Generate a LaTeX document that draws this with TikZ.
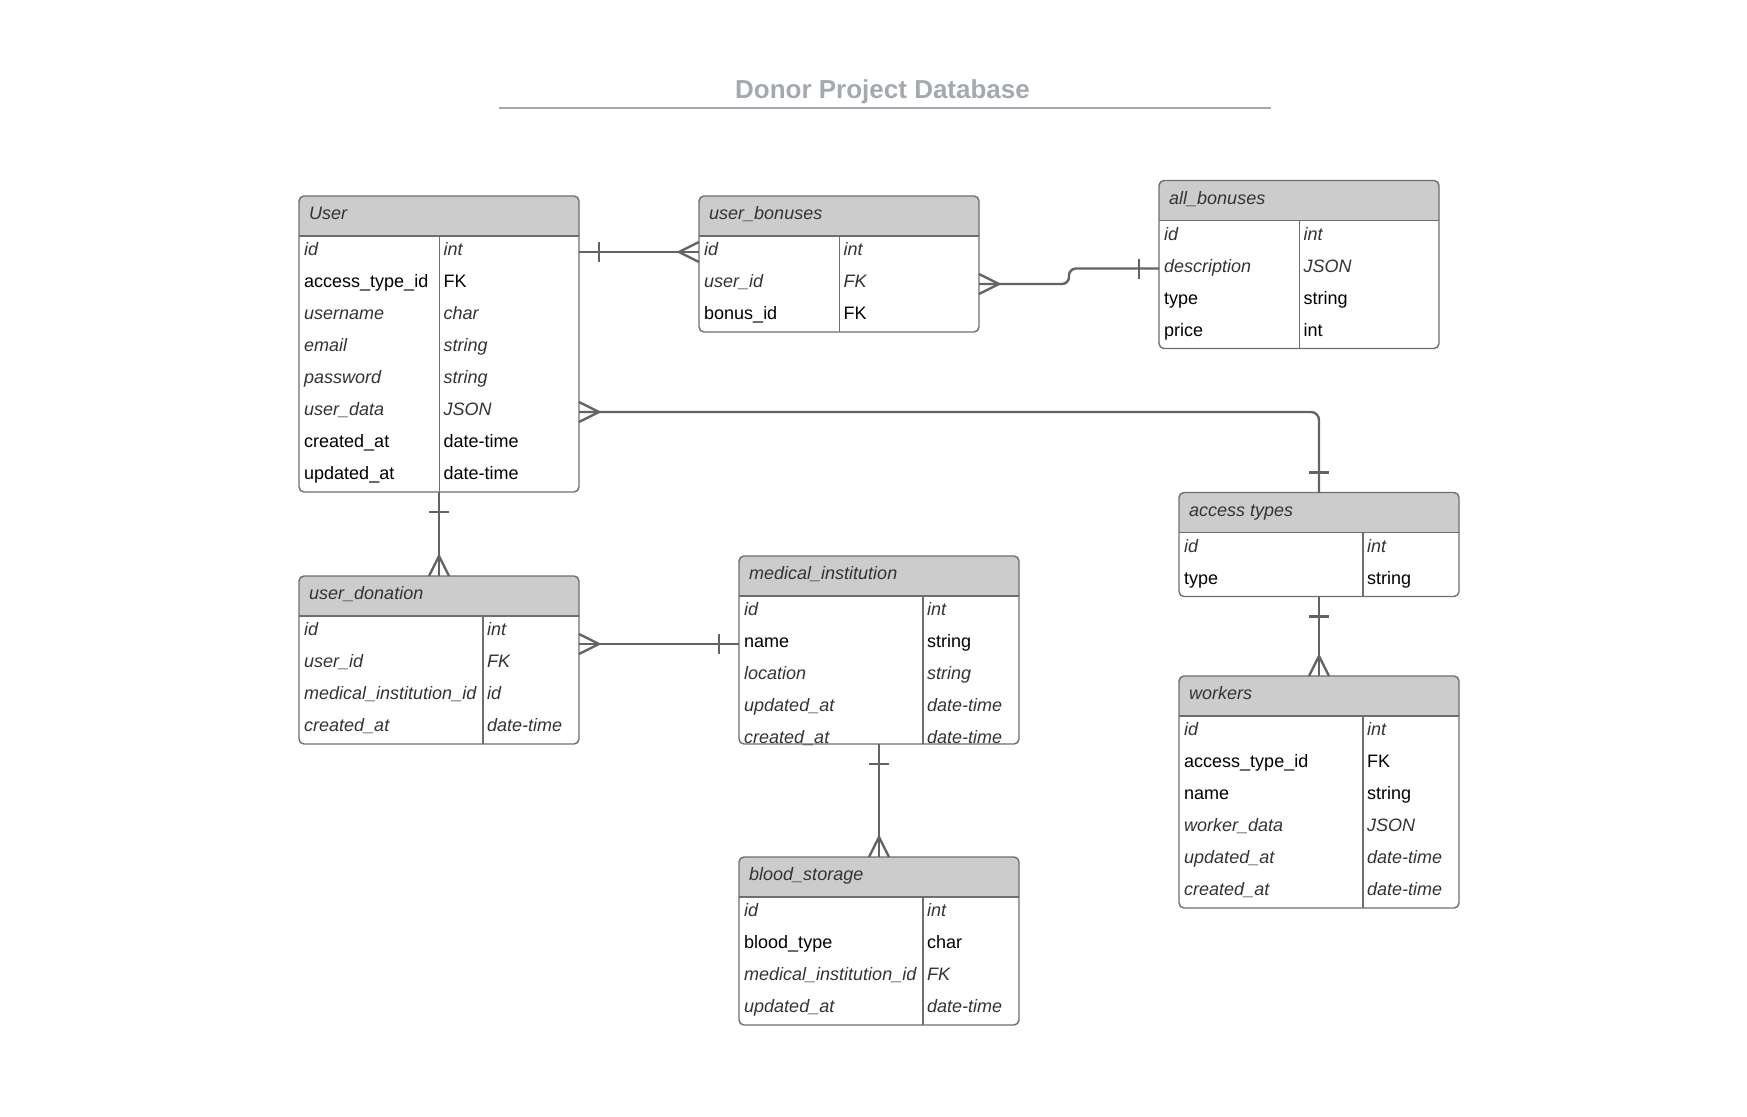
\documentclass[tikz,border=0pt]{standalone}
\usepackage{fontspec}
\setmainfont{Liberation Sans}
\usetikzlibrary{calc}

\definecolor{framegray}{HTML}{6E6E6E}
\definecolor{linkgray}{HTML}{636363}
\definecolor{headgray}{HTML}{CCCCCC}
\definecolor{softtext}{HTML}{333333}
\definecolor{titlegray}{HTML}{A4A8B0}

\tikzset{
  tablebox/.style={rectangle, fill=white, inner sep=0pt, outer sep=0pt},
  frame/.style={draw=framegray, line width=1.4pt},
  conn/.style={draw=linkgray, line width=2.4pt},
  cell/.style={inner sep=0pt, anchor=west, text height=12pt, text depth=5pt,
               font=\fontsize{18}{22}\selectfont},
  fi/.style={cell, font=\fontsize{18}{22}\selectfont\itshape, text=softtext},
  fn/.style={cell, text=black},
  headtxt/.style={cell, font=\fontsize{18}{22}\selectfont\itshape, text=softtext},
  crowfoot/.pic={\draw[conn] (-20,0) -- (0,10) (-20,0) -- (0,-10);},
  onebar/.pic={\draw[conn] (-20,-10) -- (-20,10);},
}

% #1 name, #2 left, #3 top, #4 width, #5 column split, #6 height, #7 title, #8 rows
\newcommand\ertable[8]{%
  \node[tablebox, minimum width=#4pt, minimum height=#6pt, anchor=north west] (#1) at (#2,#3) {};
  \begin{scope}
    \clip (#1.north west) rectangle ([yshift=-40pt]#1.north east);
    \fill[headgray, rounded corners=5pt] (#1.north west) rectangle (#1.south east);
  \end{scope}
  \draw[frame] ([yshift=-40pt]#1.north west) -- ([yshift=-40pt]#1.north east);
  \draw[frame] ([xshift=#5pt, yshift=-40pt]#1.north west) -- ([xshift=#5pt]#1.south west);
  \draw[frame, rounded corners=5pt] (#1.north west) rectangle (#1.south east);
  \node[headtxt] (#1-head) at ([xshift=10pt, yshift=-20pt]#1.north west) {#7};
  \foreach [count=\i] \kind/\fname/\ftype in {#8} {
    \node[f\kind] (#1-f\i) at ([xshift=5pt, yshift={-(24+32*\i)*1pt}]#1.north west) {\fname};
    \node[f\kind] (#1-t\i) at ([xshift={(#5+4)*1pt}, yshift={-(24+32*\i)*1pt}]#1.north west) {\ftype};
  }%
}

\begin{document}
\begin{tikzpicture}[x=1pt, y=-1pt]
\useasboundingbox (0,0) rectangle (1747,1116);

% heading
\node[font=\fontsize{26}{30}\selectfont\bfseries, text=titlegray] (title) at (882.5,91.5) {Donor Project Database};
\draw[titlegray, line width=2pt] (499,108) -- (1271,108);

% tables
\ertable{user}{299}{196}{280}{140.5}{296}{User}{i/id/int, n/access\_type\_id/FK, i/username/char, i/email/string, i/password/string, i/user\_data/JSON, n/created\_at/date-time, n/updated\_at/date-time}
\ertable{ub}{699}{196}{280}{140.5}{136}{user\_bonuses}{i/id/int, i/user\_id/FK, n/bonus\_id/FK}
\ertable{ab}{1159}{180.5}{280}{140.5}{168}{all\_bonuses}{i/id/int, i/description/JSON, n/type/string, n/price/int}
\ertable{acc}{1179}{492.5}{280}{184}{104}{access types}{i/id/int, n/type/string}
\ertable{wk}{1179}{676}{280}{184}{232}{workers}{i/id/int, n/access\_type\_id/FK, n/name/string, i/worker\_data/JSON, i/updated\_at/date-time, i/created\_at/date-time}
\ertable{ud}{299}{576}{280}{184}{168}{user\_donation}{i/id/int, i/user\_id/FK, i/medical\_institution\_id/id, i/created\_at/date-time}
\ertable{mi}{739}{556}{280}{184}{188}{medical\_institution}{i/id/int, n/name/string, i/location/string, i/updated\_at/date-time, i/created\_at/date-time}
\ertable{bs}{739}{857}{280}{184}{168}{blood\_storage}{i/id/int, n/blood\_type/char, i/medical\_institution\_id/FK, i/updated\_at/date-time}

% User (one) -- user_bonuses (many)
\draw[conn] (user.east |- user-f1) -- (ub.west |- user-f1);
\pic[rotate=180] at (user.east |- user-f1) {onebar};
\pic at (ub.west |- user-f1) {crowfoot};

% user_bonuses (many) -- all_bonuses (one)
\coordinate (ubm) at ($(ub.east)!0.5!(ab.west)$);
\draw[conn, rounded corners=7pt] (ub.east |- ub-f2) -| (ubm |- ab-f2) -- (ab.west |- ab-f2);
\pic[rotate=180] at (ub.east |- ub-f2) {crowfoot};
\pic at (ab.west |- ab-f2) {onebar};

% User (many) -- access types (one)
\draw[conn, rounded corners=8pt] (user.east |- user-f6) -| (acc.north);
\pic[rotate=180] at (user.east |- user-f6) {crowfoot};
\pic[rotate=-90] at (acc.north) {onebar};

% User (one) -- user_donation (many)
\draw[conn] (user.south) -- (ud.north);
\pic[rotate=90] at (user.south) {onebar};
\pic[rotate=-90] at (ud.north) {crowfoot};

% user_donation (many) -- medical_institution (one)
\draw[conn] (ud.east |- mi-f2) -- (mi.west |- mi-f2);
\pic[rotate=180] at (ud.east |- mi-f2) {crowfoot};
\pic at (mi.west |- mi-f2) {onebar};

% access types (one) -- workers (many)
\draw[conn] (acc.south) -- (wk.north);
\pic[rotate=90] at (acc.south) {onebar};
\pic[rotate=-90] at (wk.north) {crowfoot};

% medical_institution (one) -- blood_storage (many)
\draw[conn] (mi.south) -- (bs.north);
\pic[rotate=90] at (mi.south) {onebar};
\pic[rotate=-90] at (bs.north) {crowfoot};
\end{tikzpicture}
\end{document}
